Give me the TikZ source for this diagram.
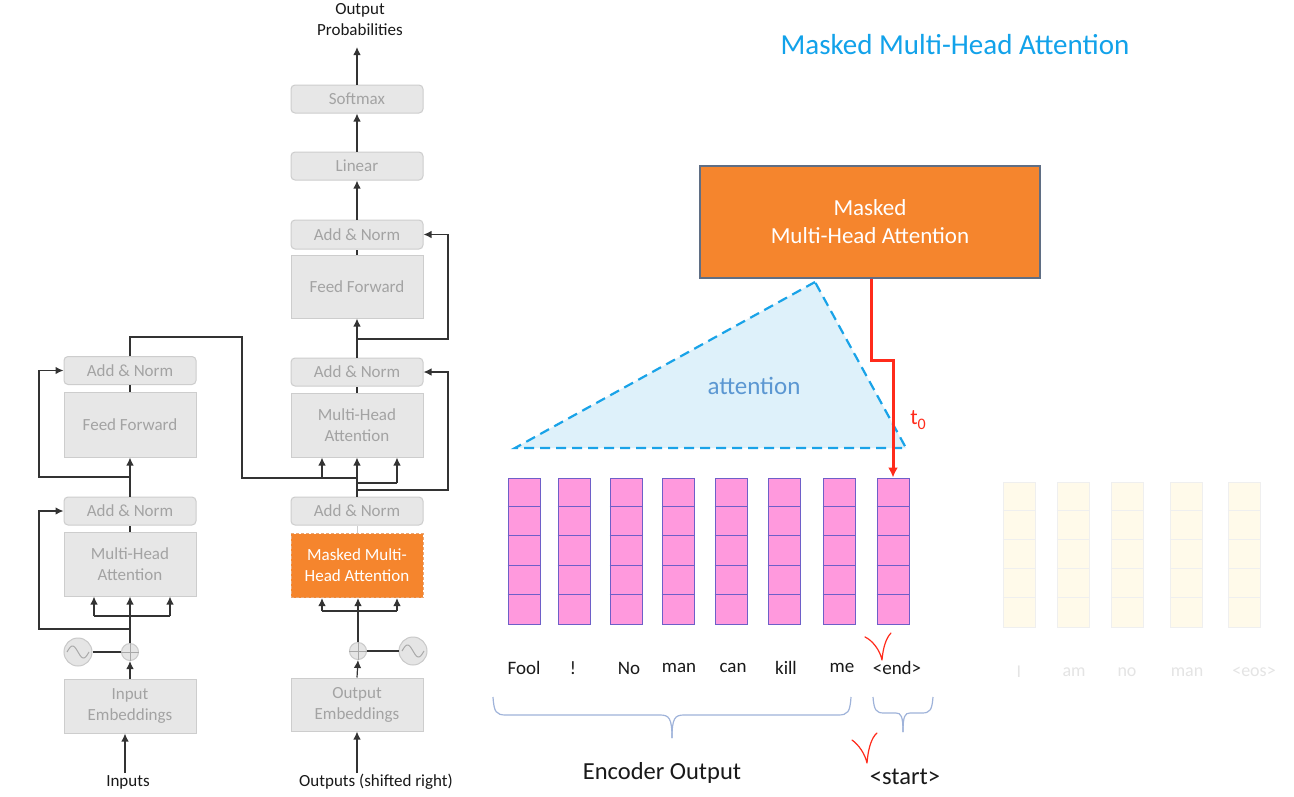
\documentclass[tikz,border=0pt]{standalone}
\usepackage{fontspec}
\setmainfont{Carlito}
\usetikzlibrary{arrows.meta,calc}
\definecolor{gfill}{HTML}{E7E7E7}
\definecolor{gborder}{HTML}{CDCDCD}
\definecolor{gtext}{HTML}{A3A3A3}
\definecolor{linec}{HTML}{333333}
\definecolor{orng}{HTML}{F5852D}
\definecolor{orngb}{HTML}{E9A878}
\definecolor{bigb}{HTML}{5F6E84}
\definecolor{pinkf}{HTML}{FF99DD}
\definecolor{pinkb}{HTML}{6E5FC8}
\definecolor{fadef}{HTML}{FFFAEA}
\definecolor{fadeb}{HTML}{EFEFEF}
\definecolor{fadet}{HTML}{E4E4E4}
\definecolor{trif}{HTML}{DEF1FA}
\definecolor{triblue}{HTML}{19A3E8}
\definecolor{attc}{HTML}{5B97D2}
\definecolor{titlec}{HTML}{12A2EA}
\definecolor{bracec}{HTML}{9FB3DA}
\definecolor{redc}{HTML}{FF2B1B}
\definecolor{circf}{HTML}{E5E5E5}
\definecolor{circb}{HTML}{C9C9C9}
\definecolor{sinec}{HTML}{A8A8A8}
\tikzset{
  gbox/.style={draw=gborder, fill=gfill, text=gtext, line width=1pt, minimum width=132pt,
    inner sep=0pt, align=center, font=\fontsize{17}{21}\selectfont},
  rbox/.style={gbox, rounded corners=4pt},
  ln/.style={draw=linec, line width=1.2pt},
  arr/.style={ln, -{Latex[length=8pt,width=7.5pt]}},
  sinc/.style={circle, draw=circb, fill=circf, line width=1pt, minimum size=28pt, inner sep=0pt},
  plusc/.style={circle, draw=circb, fill=circf, line width=1pt, minimum size=17pt, inner sep=0pt},
  pinkcol/.style={draw=pinkb, fill=pinkf, line width=1pt, minimum width=32pt, minimum height=146pt, inner sep=0pt},
  fadecol/.style={draw=fadeb, fill=fadef, line width=1pt, minimum width=32pt, minimum height=145pt, inner sep=0pt},
  wordlbl/.style={text=black!90, font=\fontsize{19}{20}\selectfont, inner sep=0pt},
  fadelbl/.style={text=fadet, font=\fontsize{18}{20}\selectfont, inner sep=0pt},
  blbl/.style={text=black!90, font=\fontsize{17}{21}\selectfont, align=center, inner sep=0pt},
  bracepath/.style={draw=bracec, line width=1.2pt},
  checkpath/.style={draw=redc, line width=1.2pt, line cap=round, line join=round}
}
\begin{document}
\begin{tikzpicture}[x=1pt,y=-1pt]
\useasboundingbox (0,0) rectangle (1294,796);
\fill[white] (0,0) rectangle (1294,796);

% ===== Encoder =====
\node[rbox, minimum height=28pt] (eAN2) at (130,370.5) {Add \& Norm};
\node[gbox, minimum height=65pt] (eFF) at (130,424.5) {Feed Forward};
\node[rbox, minimum height=28pt] (eAN1) at (130,511) {Add \& Norm};
\node[gbox, minimum height=64pt] (eMHA) at (130,564) {Multi-Head\\Attention};
\node[gbox, minimum height=54pt] (eEmb) at (130,706) {Input\\Embeddings};
\node[plusc] (ePlus) at (130,652) {};
\draw[draw=sinec, line width=1pt] (ePlus.north) -- (ePlus.south) (ePlus.west) -- (ePlus.east);
\node[sinc] (eSin) at (78,652) {};
\begin{scope}[shift={(eSin.center)}]
\draw[draw=sinec, line width=1pt] plot[domain=-11:11, samples=40, smooth] (\x, {6*sin(16.4*\x)});
\end{scope}
\node[blbl] (inp) at (128,782) {Inputs};

\coordinate (inpTop) at (125,773);
\draw[arr] (inpTop) -- (inpTop |- eEmb.south);
\draw[arr] (eEmb.north) -- (ePlus.south);
\draw[ln] (eSin.east) -- (ePlus.west);
\coordinate (eS1) at (130,629);
\coordinate (eL1) at (39,629);
\coordinate (eBr) at (130,616);
\coordinate (eB1) at (94,616);
\coordinate (eB3) at (170,616);
\draw[ln] (ePlus.north) -- (eS1) -- (eBr);
\draw[ln] (eB1) -- (eB3);
\draw[arr] (eB1) -- (eB1 |- eMHA.south);
\draw[arr] (eBr) -- (eMHA.south);
\draw[arr] (eB3) -- (eB3 |- eMHA.south);
\draw[arr] (eS1) -- (eL1) |- (eAN1.west);
\draw[ln] (eMHA.north) -- (eAN1.south);
\coordinate (eS2) at (130,477);
\coordinate (eL2) at (39,477);
\draw[arr] (eAN1.north) -- (eFF.south);
\draw[arr] (eS2) -- (eL2) |- (eAN2.west);
\draw[ln] (eFF.north) -- (eAN2.south);

% ===== Decoder =====
\node[rbox, minimum height=28pt] (soft) at (357,99) {Softmax};
\node[rbox, minimum height=28pt] (lin) at (357,166) {Linear};
\node[rbox, minimum height=29pt] (dAN3) at (357,234.5) {Add \& Norm};
\node[gbox, minimum height=63pt] (dFF) at (357,286.5) {Feed Forward};
\node[rbox, minimum height=28pt] (dAN2) at (357,372) {Add \& Norm};
\node[gbox, minimum height=64pt] (dMHA) at (357,425) {Multi-Head\\Attention};
\node[rbox, minimum height=28pt] (dAN1) at (357,511) {Add \& Norm};
\node[gbox, draw=orngb, fill=orng, text=white, dashed, dash pattern=on 3pt off 2pt, minimum height=64pt] (dMask) at (357,565.5) {Masked Multi-\\Head Attention};
\node[gbox, minimum height=53pt] (dEmb) at (357,704.5) {Output\\Embeddings};
\node[plusc] (dPlus) at (358,651) {};
\draw[draw=sinec, line width=1pt] (dPlus.north) -- (dPlus.south) (dPlus.west) -- (dPlus.east);
\node[sinc] (dSin) at (413,651) {};
\begin{scope}[shift={(dSin.center)}]
\draw[draw=sinec, line width=1pt] plot[domain=-11:11, samples=40, smooth] (\x, {6*sin(16.4*\x)});
\end{scope}
\node[blbl] (outp) at (376,782) {Outputs (shifted right)};
\node[blbl, anchor=north] (oprob) at (360,3) {Output\\Probabilities};

\coordinate (outTop) at (357,773);
\draw[arr] (outTop) -- (dEmb.south);
\draw[arr] (dEmb.north) -- (dPlus.south);
\draw[ln] (dPlus.east) -- (dSin.west);
\coordinate (dB0) at (358,611);
\coordinate (dB1) at (322,611);
\coordinate (dB3) at (397,611);
\draw[ln] (dPlus.north) -- (dB0);
\draw[ln] (dB1) -- (dB3);
\draw[arr] (dB1) -- (dB1 |- dMask.south);
\draw[arr] (dB0) -- (dB0 |- dMask.south);
\draw[arr] (dB3) -- (dB3 |- dMask.south);
\draw[draw=gborder, line width=1pt] (dMask.north) -- (dAN1.south);

% encoder output into decoder attention
\coordinate (eT) at (130,337);
\coordinate (eR) at (242,337);
\coordinate (eR2) at (242,478);
\coordinate (dK1) at (322,478);
\coordinate (dK2) at (357,478);
\draw[ln] (eAN2.north) -- (eT) -- (eR) -- (eR2) -- (dK2);
\draw[arr] (dK1) -- (dK1 |- dMHA.south);
\draw[arr] (dK2) -- (dMHA.south);

\coordinate (dQ0) at (357,483);
\coordinate (dQ) at (397,483);
\draw[ln] (dAN1.north) -- (dQ0) -- (dQ);
\draw[ln] (dQ0) -- (dK2);
\draw[arr] (dQ) -- (dQ |- dMHA.south);
\coordinate (dS0) at (357,490);
\coordinate (dS1) at (448,490);
\draw[arr] (dS0) -- (dS1) |- (dAN2.east);
\draw[ln] (dMHA.north) -- (dAN2.south);
\draw[arr] (dAN2.north) -- (dFF.south);
\coordinate (dS2) at (357,339);
\coordinate (dS3) at (448,339);
\draw[arr] (dS2) -- (dS3) |- (dAN3.east);
\draw[ln] (dFF.north) -- (dAN3.south);
\draw[arr] (dAN3.north) -- (lin.south);
\draw[arr] (lin.north) -- (soft.south);
\coordinate (opIn) at (357,47);
\draw[arr] (soft.north) -- (opIn);

% ===== Right side =====
\node[text=titlec, font=\fontsize{29}{31}\selectfont] (title) at (955,45) {Masked Multi-Head Attention};
\node[draw=bigb, fill=orng, text=white, line width=1.2pt, minimum width=340pt, minimum height=112pt,
  align=center, font=\fontsize{23}{28}\selectfont] (bigMask) at (870,222) {Masked\\Multi-Head Attention};

\coordinate (tA) at (815,282);
\coordinate (tB) at (515,448);
\coordinate (tC) at (906,448);
\filldraw[fill=trif, draw=triblue, line width=2.2pt, dash pattern=on 10pt off 6pt] (tA) -- (tB) -- (tC) -- cycle;
\node[text=attc, font=\fontsize{25}{27}\selectfont] (att) at (754,386) {attention};

% pink columns
\foreach \n/\cx in {1/524,2/574,3/626,4/678,5/731,6/784,7/839,8/893}{
  \node[pinkcol] (col\n) at (\cx,551) {};
  \foreach \i in {1,2,3,4}{
    \draw[draw=pinkb, line width=1pt] ($(col\n.north west)+(0,\i*29.2)$) -- ($(col\n.north east)+(0,\i*29.2)$);
  }
}
\foreach \n/\lx/\w in {1/524/Fool,2/573/!,3/629/No,4/679/man,5/733/can,6/786/kill,7/842/me,8/897/{<end>}}{
  \node[wordlbl] (lbl\n) at (\lx,668) {\w};
}

% faded columns
\foreach \n/\cx in {1/1019,2/1073,3/1127,4/1186,5/1244}{
  \node[fadecol] (fcol\n) at (\cx,554.5) {};
  \foreach \i in {1,2,3,4}{
    \draw[draw=fadeb, line width=1pt] ($(fcol\n.north west)+(0,\i*29)$) -- ($(fcol\n.north east)+(0,\i*29)$);
  }
}
\foreach \n/\lx/\w in {1/1019/I,2/1074/am,3/1127/no,4/1187/man,5/1254/{<eos>}}{
  \node[fadelbl] (flbl\n) at (\lx,672) {\w};
}

% red connector
\coordinate (rk) at (0,360);
\draw[draw=redc, line width=3pt, -{Latex[length=10pt,width=10pt]}] ([xshift=1pt]bigMask.south) -- ([xshift=1pt]bigMask.south |- rk) -- (col8.north |- rk) -- (col8.north);
\node[text=redc, font=\fontsize{22}{24}\selectfont] (t0) at (918,420) {t\raisebox{-5pt}{\fontsize{16}{16}\selectfont 0}};

% braces
\draw[bracepath] (493,697) .. controls (494,712) and (496,715) .. (506,715) -- (660,715)
  .. controls (669,715) and (672,718) .. (672,738);
\draw[bracepath] (672,738) .. controls (672,718) and (675,715) .. (684,715) -- (838,715)
  .. controls (848,715) and (850,712) .. (851,697);
\draw[bracepath] (873,697) .. controls (874,710) and (876,713) .. (884,713) -- (896,713)
  .. controls (901,713) and (903,716) .. (903,732);
\draw[bracepath] (903,732) .. controls (903,716) and (905,713) .. (910,713) -- (922,713)
  .. controls (930,713) and (932,710) .. (933,697);

\node[text=black!90, font=\fontsize{24.5}{26}\selectfont] (encout) at (662,773) {Encoder Output};
\node[text=black!90, font=\fontsize{24.5}{26}\selectfont] (startlbl) at (905,777) {<start>};

% red check marks
\draw[checkpath] (865,637) .. controls (872,640) and (880,650) .. (882,660) .. controls (883,648) and (886,638) .. (891,633);
\draw[checkpath] (852,740) .. controls (859,745) and (865,754) .. (867,763) .. controls (868,750) and (871,738) .. (877,733);
\end{tikzpicture}
\end{document}
